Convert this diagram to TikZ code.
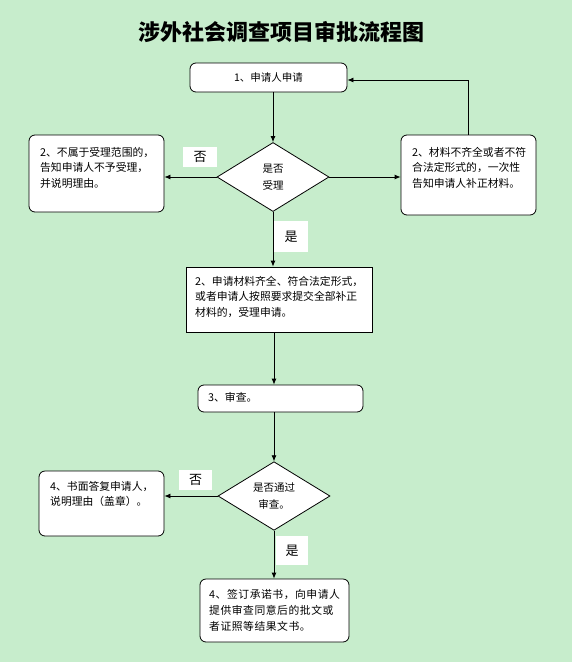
\documentclass[tikz,border=0pt]{standalone}
\usepackage{fontspec}
\newfontfamily\cjk{Noto Sans CJK SC}
\newfontfamily\cjkwide[LetterSpace=5]{Noto Sans CJK SC}
\usepackage{tikz}
\usetikzlibrary{shapes,arrows.meta,positioning}
\usepackage{xcolor}
\definecolor{eyegreen}{RGB}{199,237,204}

\begin{document}
\begin{tikzpicture}[x=1pt,y=-1pt,
        box/.style={draw, fill=white, rounded corners=6pt, line width=0.8pt},
        sqbox/.style={draw, fill=white, line width=0.8pt},
        choice/.style={draw, fill=white, diamond, line width=0.8pt, inner sep=0pt,
            align=center, font=\cjk\fontsize{10.5}{17}\selectfont},
        txt/.style={anchor=north west, inner sep=0pt, align=left,
            font=\cjk\fontsize{10.8}{15.5}\selectfont},
        tag/.style={fill=white, inner sep=0pt, font=\cjk\fontsize{13}{13}\selectfont},
        flow/.style={-{Latex[length=6pt,width=5pt]}, line width=0.8pt}]

            \fill[eyegreen] (0,0) rectangle (572,662);
            \useasboundingbox (0,0) rectangle (572,662);

            \node[font=\cjk\bfseries\fontsize{22}{22}\selectfont] (title) at (281.5,32) {涉外社会调查项目审批流程图};

            % first row
            \node[box, minimum width=157pt, minimum height=29pt,
                font=\cjk\fontsize{10.5}{12}\selectfont] (apply) at (268.5,77.5) {1、申请人申请};
            \node[choice, minimum width=112pt, minimum height=69pt] (accept) at (273,177) {是否\\受理};
            \node[box, minimum width=135pt, minimum height=77pt] (refuse) at (96.5,173.5) {};
            \node[txt] (refuse-t) at (40,147) {2、不属于受理范围的，\\告知申请人不予受理，\\并说明理由。};
            \node[box, minimum width=135pt, minimum height=80pt] (amend) at (468.5,175) {};
            \node[txt] (amend-t) at (412,147) {2、材料不齐全或者不符\\合法定形式的，一次性\\告知申请人补正材料。};

            % middle
            \node[sqbox, minimum width=186pt, minimum height=65pt] (take) at (279,299.5) {};
            \node[txt] (take-t) at (195,276) {2、申请材料齐全、符合法定形式，\\或者申请人按照要求提交全部补正\\材料的，受理申请。};
            \node[box, minimum width=165pt, minimum height=27pt] (review) at (280.5,398.5) {};
            \node[txt] (review-t) at (208,392) {3、审查。};

            % last row
            \node[choice, minimum width=112pt, minimum height=68pt] (pass) at (274,496) {是否通过\\审查。};
            \node[box, minimum width=125pt, minimum height=65pt] (reply) at (101.5,503.5) {};
            \node[txt] (reply-t) at (50,481) {4、书面答复申请人，\\说明理由（盖章）。};
            \node[box, minimum width=149pt, minimum height=63pt] (sign) at (274.5,610.5) {};
            \node[txt, font=\cjkwide\fontsize{10.8}{16}\selectfont] (sign-t) at (209,589) {4、签订承诺书，向申请人\\提供审查同意后的批文或\\者证照等结果文书。};

            % connectors
            \draw[flow] (accept.north |- apply.south) -- (accept.north);
            \draw[flow] (accept.west) -- (accept.west -| refuse.east);
            \draw[flow] (accept.east) -- (accept.east -| amend.west);
            \draw[flow] (amend.north) |- ([yshift=-2.5pt]apply.east);
            \draw[flow] (accept.south) -- (accept.south |- take.north);
            \draw[flow] (pass.north |- take.south) -- (pass.north |- review.north);
            \draw[flow] (pass.north |- review.south) -- (pass.north);
            \draw[flow] (pass.west) -- (pass.west -| reply.east);
            \draw[flow] (pass.south) -- (pass.south |- sign.north);

            \node[tag, minimum width=34pt, minimum height=20pt] (no1) at (200,157) {否};
            \node[tag, minimum width=34pt, minimum height=31pt] (yes1) at (291,236.5) {是};
            \node[tag, minimum width=33pt, minimum height=20pt] (no2) at (195.5,480) {否};
            \node[tag, minimum width=32pt, minimum height=29pt] (yes2) at (292,550.5) {是};
        \end{tikzpicture}
\end{document}
